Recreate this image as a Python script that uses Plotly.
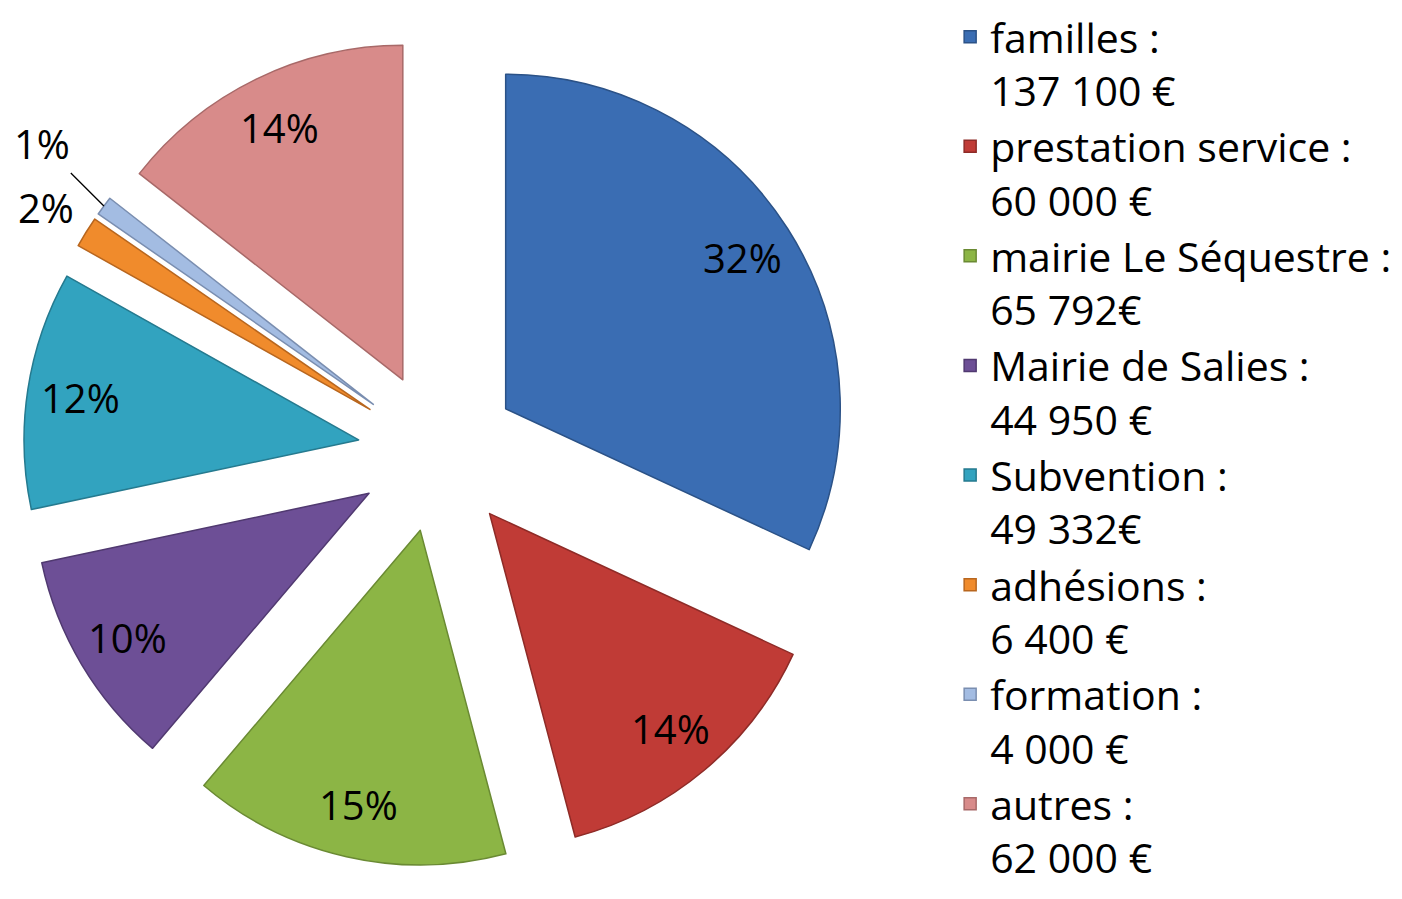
import math
import plotly.graph_objects as go

categories = ["familles :", "prestation service :", "mairie Le Séquestre :", "Mairie de Salies :",
              "Subvention :", "adhésions :", "formation :", "autres :"]
amount_labels = ["137 100 €", "60 000 €", "65 792€", "44 950 €", "49 332€", "6 400 €", "4 000 €", "62 000 €"]
values = [137100, 60000, 65792, 44950, 49332, 6400, 4000, 62000]
pct_labels = ["32%", "14%", "15%", "10%", "12%", "2%", "1%", "14%"]

colors = ["#3A6DB3", "#C03B36", "#8CB545", "#6D4F96", "#32A3BF", "#F08B2C", "#A3BCE2", "#D88B8A"]
edges = ["#2B5287", "#8E2B27", "#6A8A33", "#503970", "#257A8F", "#B8661E", "#7A8EB0", "#A86968"]

W, H = 1402, 899
PULL = 0.24
DOM_X = [0.0107, 0.6027]
DOM_Y = [0.0446, 0.9676]
FONT = "Open Sans"

legend_names = [c + "<br>" + a for c, a in zip(categories, amount_labels)]

fig = go.Figure(go.Pie(
    labels=legend_names,
    values=values,
    textinfo="none",
    sort=False,
    direction="clockwise",
    rotation=0,
    pull=[PULL] * len(values),
    marker=dict(colors=colors, line=dict(color=edges, width=1.5)),
    domain=dict(x=DOM_X, y=DOM_Y),
    hoverinfo="label+value+percent",
))

# percentage labels placed along each slice's mid-angle (pie geometry derived from the domain)
cx = (DOM_X[0] + DOM_X[1]) / 2 * W
cy = (1 - (DOM_Y[0] + DOM_Y[1]) / 2) * H
r = min((DOM_X[1] - DOM_X[0]) * W, (DOM_Y[1] - DOM_Y[0]) * H) / 2 / (1 + PULL)
total = sum(values)
cum = 0.0
lab_font = dict(family=FONT, size=40, color="#000000")
for v, lab in zip(values, pct_labels):
    share = v / total
    mid = (cum + share / 2) * 2 * math.pi
    cum += share
    s, c = math.sin(mid), -math.cos(mid)
    if share >= 0.01:
        k = 0.84 if share >= 0.02 else 1.14
        d = (PULL + k) * r
        fig.add_annotation(x=(cx + d * s) / W, y=1 - (cy + d * c) / H, xref="paper", yref="paper",
                           xanchor="center", yanchor="middle",
                           text=lab, showarrow=False, font=lab_font)
    else:
        d_tip = (PULL + 1.0) * r
        d_txt = (PULL + 1.26) * r
        mid2 = mid + math.radians(1.5)
        tx, ty = cx + d_tip * s, cy + d_tip * c
        lx, ly = cx + d_txt * math.sin(mid2), cy - d_txt * math.cos(mid2)
        fig.add_annotation(x=tx / W, y=1 - ty / H, xref="paper", yref="paper",
                           xanchor="center", yanchor="middle",
                           ax=lx - tx, ay=ly - ty, text=lab, showarrow=True,
                           arrowhead=0, arrowwidth=1.3, arrowcolor="#000000", standoff=0,
                           font=lab_font)

fig.update_layout(
    width=W, height=H,
    margin=dict(l=0, r=0, t=0, b=0, autoexpand=False),
    paper_bgcolor="white",
    plot_bgcolor="white",
    showlegend=True,
    legend=dict(
        xref="paper", yref="paper",
        x=0.672, y=1.005, xanchor="left", yanchor="top",
        font=dict(family=FONT, size=41, color="#000000"),
        valign="top",
        tracegroupgap=0,
        maxheight=1300,
        bgcolor="rgba(0,0,0,0)",
    ),
)

fig.write_html("out.html")
